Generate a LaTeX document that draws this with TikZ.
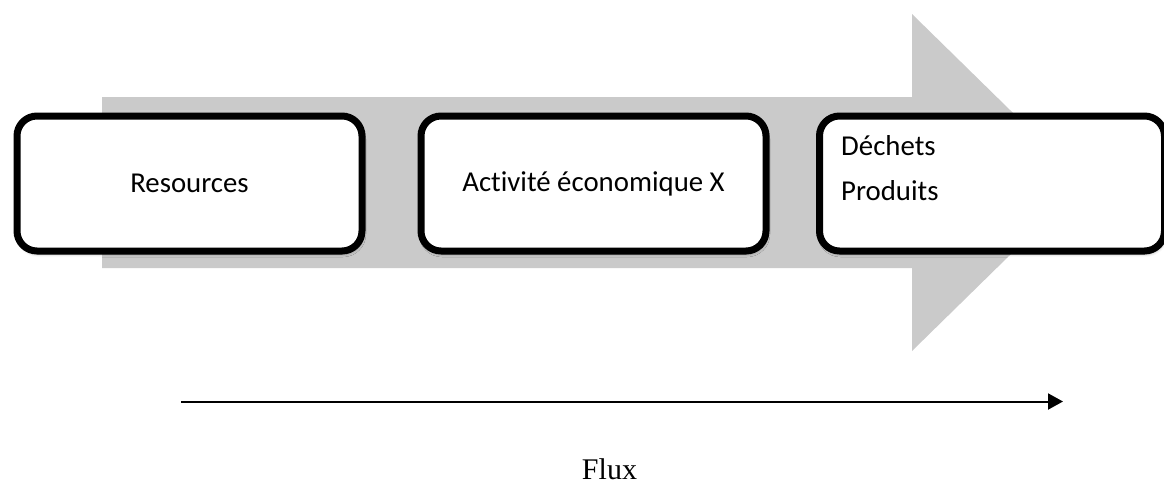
\documentclass[tikz,border=0pt]{standalone}
\usepackage{fontspec}
\setmainfont{Liberation Serif}
\newfontfamily\calib[Ligatures=NoCommon]{Carlito}
\usetikzlibrary{arrows.meta,shadows.blur}
\definecolor{bandgray}{RGB}{202,202,202}
\begin{document}
\begin{tikzpicture}[x=1pt,y=-1pt,
  stagebox/.style={draw=black, line width=7pt, rounded corners=20pt, fill=white,
    minimum width=345pt, minimum height=135pt, inner sep=0pt,
    font=\calib\fontsize{28.8}{45}\selectfont,
    blur shadow={shadow xshift=1pt, shadow yshift=-3pt, shadow blur radius=3pt, shadow opacity=35}},
  boxtext/.style={inner sep=0pt, anchor=base west, font=\calib\fontsize{28.8}{45}\selectfont},
  fluxarrow/.style={line width=2pt, -{Triangle[length=15pt,width=16pt]}},
]
\useasboundingbox (0,0) rectangle (1164,483);
\clip (0,0) rectangle (1164,483);
% big grey arrow
\fill[bandgray] (102,97) -- (912,97) -- (912,14) -- (1084,182.5) -- (912,351) -- (912,268) -- (102,268) -- cycle;
% boxes
\node[stagebox] (res) at (189.5,183.5) {Resources};
\node[stagebox] (act) at (593.5,183.5) {Activité économique X};
\node[stagebox] (out) at (992,183.5) {};
\node[boxtext] (dech) at (841,155) {Déchets};
\node[boxtext] (prod) at (841,200) {Produits};
% flux arrow
\coordinate (fstart) at (181,401.5);
\coordinate (fend) at (1063,401.5);
\draw[fluxarrow] (fstart) -- (fend);
\node[font=\fontsize{30}{32}\selectfont, anchor=base, inner sep=0pt] (flux) at (609.5,479) {Flux};
\end{tikzpicture}
\end{document}
